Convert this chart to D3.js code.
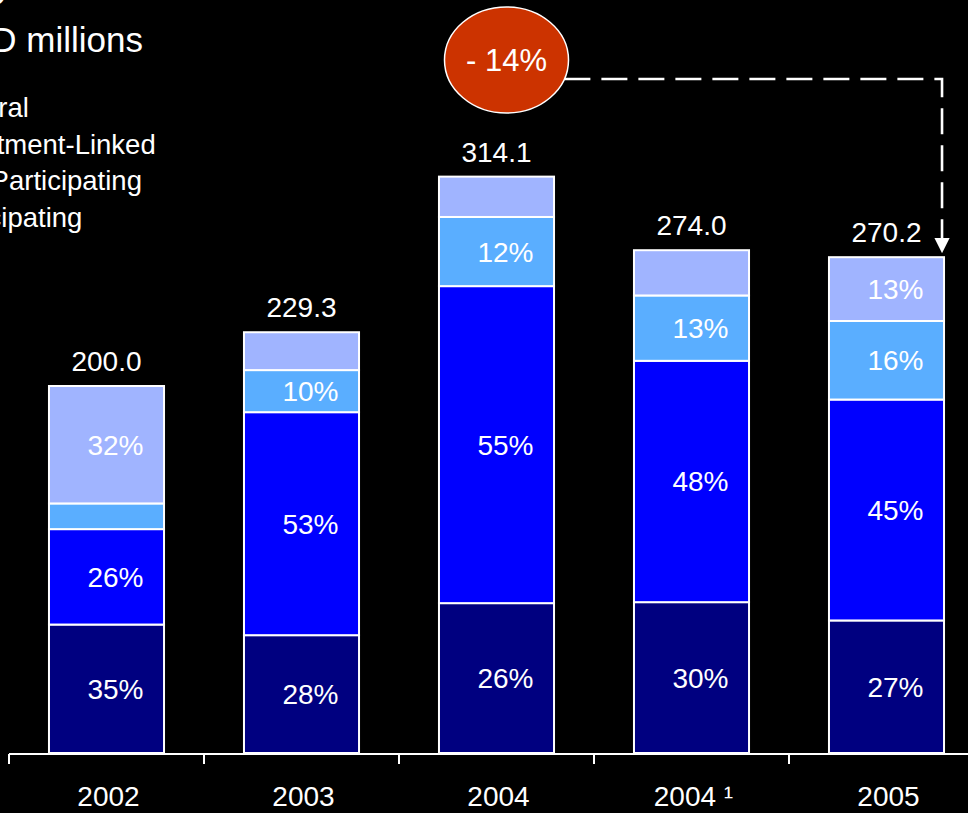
<!DOCTYPE html>
<html>
<head>
<meta charset="utf-8">
<script src="https://cdn.jsdelivr.net/npm/d3@7"></script>
<style>
  html, body { margin: 0; padding: 0; background: #000; }
  svg { display: block; font-family: "Liberation Sans", Arial, Helvetica, sans-serif; }
</style>
</head>
<body>
<svg id="chart" width="968" height="813"></svg>
<script>
// ---- data ----
const categories = ["2002", "2003", "2004", "2004 \u00b9", "2005"];
const totals = [200.0, 229.3, 314.1, 274.0, 270.2];           // USD millions
// share of each policy type in the year's total (%), bottom to top
const participating     = [35, 28, 26, 30, 27];
const nonParticipating  = [26, 53, 55, 48, 45];
const investmentLinked  = [7, 10, 12, 13, 16];
const general           = [32, 9, 7, 9, 13];
const seriesNames = ["Participating", "Non-Participating", "Investment-Linked", "General"];
const legendNames = ["General", "Investment-Linked", "Non-Participating", "Participating"];
// segments whose share is not printed on the bar
const unlabeled = [["Investment-Linked", "2002"], ["General", "2003"], ["General", "2004"], ["General", "2004 \u00b9"]];
const titleText = "Gross Premiums by Policy";
const unitText = "USD millions";
const changeText = "- 14%";

const colors = {
  "Participating": "#000080",
  "Non-Participating": "#0000ff",
  "Investment-Linked": "#5aaeff",
  "General": "#a0b4ff"
};

const shares = {
  "Participating": participating,
  "Non-Participating": nonParticipating,
  "Investment-Linked": investmentLinked,
  "General": general
};

// rows for the stack: each share converted to millions of the year's total
const table = categories.map((c, i) => {
  const sum = d3.sum(seriesNames, k => shares[k][i]);
  const row = { category: c, total: totals[i] };
  seriesNames.forEach(k => { row[k] = totals[i] * shares[k][i] / sum; });
  return row;
});
const stacked = d3.stack().keys(seriesNames)(table);

// ---- layout ----
const svg = d3.select("#chart");
const W = 968;
const baseY = 753;

const x = d3.scaleBand()
  .domain(categories)
  .range([9, 984])
  .paddingInner(0.41)
  .paddingOuter(0.205);

const y = d3.scaleLinear()
  .domain([0, 400])
  .range([baseY, baseY - 400 * 1.835]);

const white = "#ffffff";

// title (runs off the left edge) and unit
svg.append("text")
  .attr("x", 12).attr("y", -3)
  .attr("text-anchor", "end")
  .attr("fill", white).attr("font-size", 35)
  .text(titleText);
svg.append("text")
  .attr("x", 143).attr("y", 52)
  .attr("text-anchor", "end")
  .attr("fill", white).attr("font-size", 35)
  .text(unitText);

// legend text
svg.append("g").selectAll("text")
  .data(legendNames)
  .join("text")
  .attr("x", -69)
  .attr("y", (d, i) => 117 + i * 36.5)
  .attr("fill", white)
  .attr("font-size", 27.5)
  .text(d => d);

// ---- stacked bars ----
const layer = svg.append("g").selectAll("g")
  .data(stacked)
  .join("g")
  .attr("fill", d => colors[d.key]);

layer.selectAll("rect")
  .data(d => d.map(s => ({ key: d.key, s })))
  .join("rect")
  .attr("x", d => x(d.s.data.category))
  .attr("width", x.bandwidth())
  .attr("y", d => y(d.s[1]))
  .attr("height", d => y(d.s[0]) - y(d.s[1]))
  .attr("stroke", white)
  .attr("stroke-width", 2);

// share labels
const isUnlabeled = (key, cat) => unlabeled.some(u => u[0] === key && u[1] === cat);
const labelData = [];
stacked.forEach(ser => {
  ser.forEach((s, i) => {
    const cat = s.data.category;
    if (!isUnlabeled(ser.key, cat)) {
      labelData.push({ cat, mid: (s[0] + s[1]) / 2, text: shares[ser.key][i] + "%" });
    }
  });
});
svg.append("g").selectAll("text")
  .data(labelData)
  .join("text")
  .attr("x", d => x(d.cat) + x.bandwidth() / 2 + 9)
  .attr("y", d => y(d.mid) + 10)
  .attr("text-anchor", "middle")
  .attr("fill", white)
  .attr("font-size", 28)
  .text(d => d.text);

// totals above bars
svg.append("g").selectAll("text")
  .data(table)
  .join("text")
  .attr("x", d => x(d.category) + x.bandwidth() / 2)
  .attr("y", d => y(d.total) - 15)
  .attr("text-anchor", "middle")
  .attr("fill", white)
  .attr("font-size", 28)
  .text(d => d3.format(".1f")(d.total));

// ---- x axis ----
const axis = svg.append("g").attr("transform", `translate(0,${baseY + 1})`);
const gap = x.step() * x.paddingInner();
axis.append("line")
  .attr("x1", x(categories[0]) - gap / 2).attr("x2", W)
  .attr("stroke", white).attr("stroke-width", 2);
axis.selectAll("line.tick")
  .data(categories)
  .join("line")
  .attr("class", "tick")
  .attr("x1", d => x(d) - gap / 2).attr("x2", d => x(d) - gap / 2)
  .attr("y1", 0).attr("y2", 10)
  .attr("stroke", white).attr("stroke-width", 2);

const axisLabels = svg.append("g")
  .attr("transform", `translate(0,${baseY + 1})`)
  .call(d3.axisBottom(x).tickSize(0).tickPadding(0));
axisLabels.select(".domain").remove();
axisLabels.selectAll(".tick text")
  .attr("fill", white)
  .attr("font-size", 28)
  .attr("font-family", "Liberation Sans, Arial, sans-serif")
  .attr("dy", 0)
  .attr("y", 52)
  .attr("dx", 2);

// ---- change annotation: 2004 -> 2005 ----
const cx = x("2004") + x.bandwidth() / 2 + 10;
const cy = 60, rx = 62, ry = 53;
const lineY = 79;
const xEnd = x("2005") + x.bandwidth() - 2;
const tipY = y(totals[4]) - 4;

const defs = svg.append("defs");
defs.append("marker")
  .attr("id", "arrow")
  .attr("viewBox", "0 0 10 10")
  .attr("refX", 10).attr("refY", 5)
  .attr("markerWidth", 6).attr("markerHeight", 6)
  .attr("markerUnits", "strokeWidth")
  .attr("orient", "auto")
  .append("path")
  .attr("d", "M0,0 L10,5 L0,10 Z")
  .attr("fill", white);

const startX = cx + rx * Math.sqrt(1 - Math.pow((lineY - cy) / ry, 2));
svg.append("path")
  .attr("d", `M${startX},${lineY} H${xEnd} V${tipY}`)
  .attr("fill", "none")
  .attr("stroke", white)
  .attr("stroke-width", 2.6)
  .attr("stroke-dasharray", "26,11")
  .attr("marker-end", "url(#arrow)");

svg.append("ellipse")
  .attr("cx", cx).attr("cy", cy)
  .attr("rx", rx).attr("ry", ry)
  .attr("fill", "#cc3300")
  .attr("stroke", white)
  .attr("stroke-width", 1.5);
svg.append("text")
  .attr("x", cx).attr("y", cy + 11)
  .attr("text-anchor", "middle")
  .attr("fill", white)
  .attr("font-size", 31)
  .text(changeText);
</script>
</body>
</html>
